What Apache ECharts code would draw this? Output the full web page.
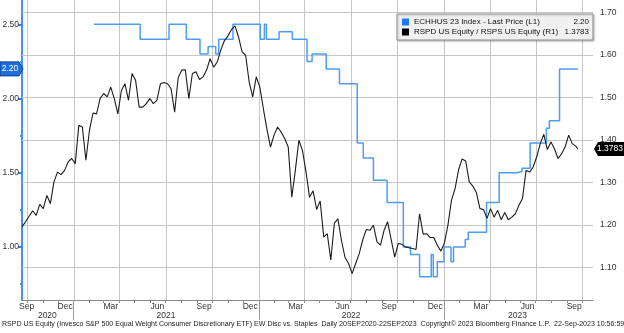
<!DOCTYPE html>
<html>
<head>
<meta charset="utf-8">
<script src="https://cdn.jsdelivr.net/npm/echarts@6/dist/echarts.min.js"></script>
<style>
  html, body { margin: 0; padding: 0; background: #ffffff; }
  #chart { width: 624px; height: 333px; background: #ffffff; }
</style>
</head>
<body>
<div id="chart"></div>
<script>
// ECHHUS 23 Index - Last Price (left axis), step series: date the level changed, new level
const l1Dates = ['2021-02-10','2021-05-12','2021-07-08','2021-08-11','2021-09-07','2021-09-23','2021-10-08','2021-10-14','2021-11-11',
  '2022-01-04','2022-01-12','2022-01-16','2022-02-10','2022-03-08','2022-04-06','2022-04-16','2022-05-14','2022-06-09',
  '2022-07-14','2022-07-26','2022-08-15','2022-09-11','2022-10-13','2022-10-27','2022-11-14','2022-12-07','2022-12-11','2022-12-19',
  '2023-01-01','2023-01-15','2023-01-20','2023-02-12','2023-02-18','2023-03-26','2023-04-20','2023-05-26','2023-06-04',
  '2023-06-20','2023-07-22','2023-07-28','2023-08-17','2023-09-22'];
const l1Values = [2.50,2.40,2.50,2.40,2.30,2.35,2.30,2.40,2.50,
  2.40,2.50,2.40,2.45,2.40,2.25,2.30,2.20,2.10,
  1.70,1.60,1.45,1.30,1.00,0.95,0.80,0.95,0.80,0.90,
  1.00,0.90,1.00,1.05,1.10,1.30,1.50,1.51,1.53,
  1.70,1.80,1.85,2.20,2.20];

// RSPD / RSPS ratio (right axis), weekly closes starting from ratioStart
const ratioStart = '2020-09-21';
const ratioWeekly = [
  1.195,1.207,1.220,1.233,1.222,1.248,1.238,1.269,1.250,1.301,
  1.324,1.318,1.328,1.348,1.356,1.344,1.434,1.430,1.352,1.422,
  1.463,1.461,1.497,1.509,1.501,1.524,1.497,1.461,1.516,1.532,
  1.493,1.556,1.540,1.477,1.477,1.485,1.497,1.485,1.493,1.532,
  1.535,1.532,1.520,1.465,1.546,1.564,1.565,1.497,1.556,1.560,
  1.542,1.548,1.564,1.591,1.571,1.583,1.611,1.633,1.644,1.659,
  1.668,1.642,1.607,1.599,1.536,1.501,1.548,1.524,1.473,1.425,
  1.383,1.411,1.430,1.418,1.403,1.383,1.265,1.328,1.399,1.375,
  1.325,1.265,1.280,1.236,1.256,1.171,1.179,1.117,1.204,1.214,
  1.163,1.123,1.109,1.085,1.109,1.132,1.165,1.189,1.187,1.199,
  1.160,1.152,1.187,1.207,1.165,1.124,1.156,1.154,1.148,1.146,
  1.144,1.142,1.226,1.178,1.179,1.170,1.170,1.152,1.138,1.157,
  1.200,1.258,1.285,1.330,1.355,1.350,1.301,1.291,1.276,1.238,
  1.236,1.215,1.238,1.218,1.234,1.212,1.229,1.212,1.218,1.226,
  1.246,1.262,1.328,1.324,1.336,1.360,1.391,1.413,1.377,1.395,
  1.379,1.356,1.367,1.383,1.411,1.391,1.385];
const ratioLastDate = '2023-09-22';
const ratioLast = 1.3783;

const l1Last = 2.20;

// Axis labels
const leftLabels = [1.00, 1.50, 2.00, 2.50];
const leftMinorTicks = [0.75, 1.25, 1.75, 2.25];
const rightLabels = [1.10, 1.20, 1.30, 1.40, 1.50, 1.60, 1.70];
const monthLabelDates = ['2020-09-30','2020-12-15','2021-03-15','2021-06-15','2021-09-15','2021-12-15',
  '2022-03-15','2022-06-15','2022-09-15','2022-12-15','2023-03-15','2023-06-15','2023-09-15'];
const monthLabelText = ['Sep','Dec','Mar','Jun','Sep','Dec','Mar','Jun','Sep','Dec','Mar','Jun','Sep'];
const yearLabelDates = ['2020-11-10','2021-07-02','2022-07-02','2023-05-26'];
const yearLabelText = ['2020','2021','2022','2023'];
const yearStarts = ['2021-01-01','2022-01-01','2023-01-01'];

const series1Name = 'ECHHUS 23 Index - Last Price (L1)';
const series2Name = 'RSPD US Equity / RSPS US Equity (R1)';
const footerText = 'RSPD US Equity (Invesco S&P 500 Equal Weight Consumer Discretionary ETF) EW Disc vs. Staples  Daily 20SEP2020-22SEP2023  Copyright\u00A9 2023 Bloomberg Finance L.P.  22-Sep-2023 10:56:59';

const FONT = 'Liberation Sans';
const DAY = 86400000;
const T = s => new Date(s + 'T00:00:00').getTime();

const xMin = T('2020-09-21');
const xMax = T('2023-10-22');

// month-start ticks and quarter-start grid lines
const monthStarts = [];
const quarterStarts = [];
for (let y = 2020; y <= 2023; y++) {
  for (let m = 0; m < 12; m++) {
    const t = new Date(y, m, 1).getTime();
    if (t < xMin || t > xMax) continue;
    monthStarts.push(t);
    if (m % 3 === 0) quarterStarts.push(t);
  }
}

const l1Data = l1Dates.map((d, i) => [T(d), l1Values[i]]);
const t0 = T(ratioStart);
const ratioData = ratioWeekly.map((v, k) => [t0 + k * 7 * DAY, v]);
ratioData.push([T(ratioLastDate), ratioLast]);

function lookup(dates, texts) {
  const ts = dates.map(T);
  return v => {
    for (let i = 0; i < ts.length; i++) if (Math.abs(ts[i] - v) < DAY) return texts[i];
    return '';
  };
}

const chart = echarts.init(document.getElementById('chart'), null, { renderer: 'canvas' });

// drawing order: grid lines < series < legend < value tags
const Z_GRID = 100, Z_SERIES = 200, Z_LEGEND = 300, Z_TAG = 400;

const footer = {
  type: 'text', left: 2, top: 321, z: Z_TAG,
  style: { text: footerText, fontFamily: FONT, fontSize: 7.05, fill: '#222' }
};

const LEG_FS = 8;

const option = {
  animation: false,
  textStyle: { fontFamily: FONT },
  grid: { left: 22, right: 31, top: 0, bottom: 33, containLabel: false, outerBoundsMode: 'none' },
  legend: {
    left: 397, top: 14, orient: 'vertical', z: Z_LEGEND,
    padding: [4, 4, 4, 5], itemGap: 2, itemWidth: 7, itemHeight: 7,
    backgroundColor: '#f1f1f1', borderColor: '#8f8f8f', borderWidth: 1,
    shadowColor: 'rgba(0,0,0,0.25)', shadowBlur: 2, shadowOffsetX: 1, shadowOffsetY: 1,
    data: [
      { name: series1Name, icon: 'rect', itemStyle: { color: '#1f78f0', borderWidth: 0 } },
      { name: series2Name, icon: 'rect', itemStyle: { color: '#000000', borderWidth: 0 } }
    ],
    formatter: name => {
      const v = name === series1Name ? l1Last.toFixed(2) : ratioLast.toFixed(4);
      return '{n|' + name + '}{v|' + v + '}';
    },
    textStyle: {
      fontFamily: FONT, fontSize: LEG_FS, color: '#111',
      rich: {
        n: { width: 146, fontFamily: FONT, fontSize: LEG_FS, color: '#111' },
        v: { width: 29, align: 'right', fontFamily: FONT, fontSize: LEG_FS, color: '#111' }
      }
    }
  },
  xAxis: [
    {
      type: 'value', min: xMin, max: xMax, position: 'bottom',
      axisLine: { show: true, lineStyle: { color: '#8c8c8c', width: 1 } },
      axisTick: { show: true, customValues: monthStarts, length: 3, lineStyle: { color: '#8c8c8c' } },
      axisLabel: {
        customValues: monthLabelDates.map(T), formatter: lookup(monthLabelDates, monthLabelText),
        margin: 2, fontSize: 8.5, color: '#333', fontFamily: FONT, hideOverlap: false
      },
      splitLine: { show: false }
    },
    {
      type: 'value', min: xMin, max: xMax, position: 'bottom', offset: 0,
      axisLine: { show: false },
      axisTick: { show: true, customValues: yearStarts.map(T), length: 20, lineStyle: { color: '#9a9a9a' } },
      axisLabel: {
        customValues: yearLabelDates.map(T), formatter: lookup(yearLabelDates, yearLabelText),
        margin: 11, fontSize: 8.5, color: '#333', fontFamily: FONT, hideOverlap: false
      },
      splitLine: { show: false }
    }
  ],
  yAxis: [
    {
      type: 'value', position: 'left', min: 0.643, max: 2.664,
      axisLine: { show: true, lineStyle: { color: '#3f93ff', width: 2 } },
      axisTick: { show: true, customValues: leftLabels, length: 4, lineStyle: { color: '#2a80ff', width: 2 } },
      axisLabel: {
        customValues: leftLabels, formatter: v => v.toFixed(2),
        margin: 3, fontSize: 8.5, color: '#333', fontFamily: FONT
      },
      splitLine: { show: false }
    },
    {
      type: 'value', position: 'right', min: 1.023, max: 1.729,
      axisLine: { show: false }, axisTick: { show: false },
      axisLabel: {
        customValues: rightLabels, formatter: v => v.toFixed(2),
        margin: 7, fontSize: 8.5, color: '#333', fontFamily: FONT
      },
      splitLine: { show: false }
    },
    {
      type: 'value', position: 'left', offset: 0, min: 0.643, max: 2.664,
      axisLine: { show: false },
      axisTick: { show: true, customValues: leftMinorTicks, length: 2, lineStyle: { color: '#2a80ff', width: 1.5 } },
      axisLabel: { show: false },
      splitLine: { show: false }
    }
  ],
  series: [
    {
      name: series1Name, type: 'line', xAxisIndex: 0, yAxisIndex: 0,
      step: 'end', showSymbol: false, symbol: 'none', z: Z_SERIES,
      lineStyle: { color: '#4d9cf6', width: 1.5 },
      itemStyle: { color: '#1f78f0' },
      data: l1Data
    },
    {
      name: series2Name, type: 'line', xAxisIndex: 0, yAxisIndex: 1,
      showSymbol: false, symbol: 'none', z: Z_SERIES + 1,
      lineStyle: { color: '#1c1c1c', width: 1.1 },
      itemStyle: { color: '#000000' },
      data: ratioData
    }
  ],
  graphic: [footer]
};

chart.setOption(option);

// light grid (right-axis levels, quarter starts) and last-value tags, placed through the axes' scales
const px = t => chart.convertToPixel({ xAxisIndex: 0 }, t);
const pyR = v => chart.convertToPixel({ yAxisIndex: 1 }, v);
const pyL = v => chart.convertToPixel({ yAxisIndex: 0 }, v);
const gx0 = px(xMin), gx1 = px(xMax);
const gyTop = pyR(1.729), gyBot = pyR(1.023);

const gridEls = [];
rightLabels.forEach(v => {
  const y = Math.round(pyR(v)) + 0.5;
  gridEls.push({ type: 'line', z: Z_GRID, silent: true,
    shape: { x1: gx0, y1: y, x2: gx1, y2: y },
    style: { stroke: '#c6c6c6', lineWidth: 1 } });
});
quarterStarts.forEach(t => {
  const x = Math.round(px(t)) + 0.5;
  gridEls.push({ type: 'line', z: Z_GRID, silent: true,
    shape: { x1: x, y1: gyTop, x2: x, y2: gyBot },
    style: { stroke: '#c6c6c6', lineWidth: 1 } });
});

const yL = pyL(l1Last);
const yR = pyR(ratioLast);
const elements = [footer].concat(gridEls, [
  {
    type: 'polygon', z: Z_TAG,
    shape: { points: [[0, yL - 7], [19, yL - 7], [23, yL], [19, yL + 7], [0, yL + 7]] },
    style: { fill: '#1d6fe0', stroke: '#0c3f8a', lineWidth: 1 }
  },
  {
    type: 'text', z: Z_TAG + 1, x: 10, y: yL,
    style: { text: l1Last.toFixed(2), fill: '#ffffff', fontFamily: FONT, fontSize: 8.5, align: 'center', verticalAlign: 'middle' }
  },
  {
    type: 'polygon', z: Z_TAG,
    shape: { points: [[gx1 + 1, yR], [gx1 + 5, yR - 7], [624, yR - 7], [624, yR + 7], [gx1 + 5, yR + 7]] },
    style: { fill: '#000000' }
  },
  {
    type: 'text', z: Z_TAG + 1, x: gx1 + 17, y: yR,
    style: { text: ratioLast.toFixed(4), fill: '#ffffff', fontFamily: FONT, fontSize: 8.5, align: 'center', verticalAlign: 'middle' }
  }
]);

chart.setOption({ graphic: elements });
</script>
</body>
</html>
